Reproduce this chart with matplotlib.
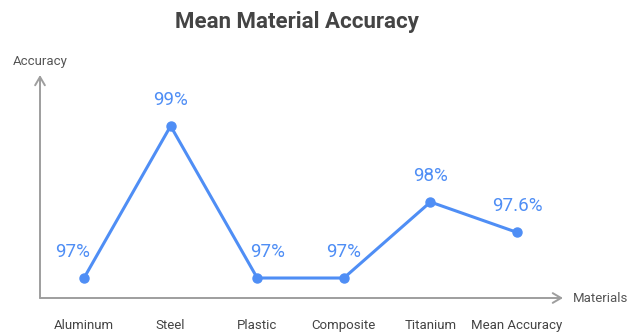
import matplotlib
matplotlib.use('Agg')
import matplotlib.pyplot as plt

plt.rcParams['font.family'] = ['Roboto', 'DejaVu Sans']

materials = ['Aluminum', 'Steel', 'Plastic', 'Composite', 'Titanium', 'Mean Accuracy']
accuracy = [97, 99, 97, 97, 98, 97.6]
value_labels = ['97%', '99%', '97%', '97%', '98%', '97.6%']

line_color = '#4f8ef5'
axis_color = '#9e9e9e'

fig = plt.figure(figsize=(6.29, 3.34), dpi=100)
ax = fig.add_axes([40/629, 36/334, 523/629, 223/334])

x = list(range(len(materials)))
ax.plot(x, accuracy, color=line_color, linewidth=2.2, marker='o', markersize=6.5,
        solid_capstyle='round', solid_joinstyle='round', zorder=3)

# nudge labels sideways where the line would run through them
nudges = {0: -11, 2: 10}
for i, (v, lab) in enumerate(zip(accuracy, value_labels)):
    ax.annotate(lab, (i, v), xytext=(nudges.get(i, 0) * 0.72, 19), textcoords='offset points',
                ha='center', va='center', color=line_color, fontsize=13.5)

ax.set_xlim(-0.508, 5.53)
ax.set_ylim(96.737, 99.671)
for s in ax.spines.values():
    s.set_visible(False)
ax.set_xticks(x)
ax.set_xticklabels(materials, color='#444444', fontsize=9.5)
ax.tick_params(axis='x', length=0, pad=15)
ax.set_yticks([])

# axis arrows
arrow = dict(arrowstyle='->,head_length=0.6,head_width=0.35', color=axis_color, lw=1.4,
             shrinkA=0, shrinkB=0)
ax.annotate('', xy=(1, 0), xytext=(0, 0), xycoords='axes fraction', arrowprops=arrow)
ax.annotate('', xy=(0, 1), xytext=(0, 0), xycoords='axes fraction', arrowprops=arrow)

fig.text(573/629, 1 - 298/334, 'Materials', ha='left', va='center', color='#555555', fontsize=9.5)
fig.text(40/629, 1 - 61/334, 'Accuracy', ha='center', va='center', color='#555555', fontsize=9.5)
fig.text(297/629, 1 - 22/334, 'Mean Material Accuracy', ha='center', va='center',
         color='#444444', fontsize=16, fontweight='bold')

fig.savefig('out.png', dpi=100, facecolor='white')
